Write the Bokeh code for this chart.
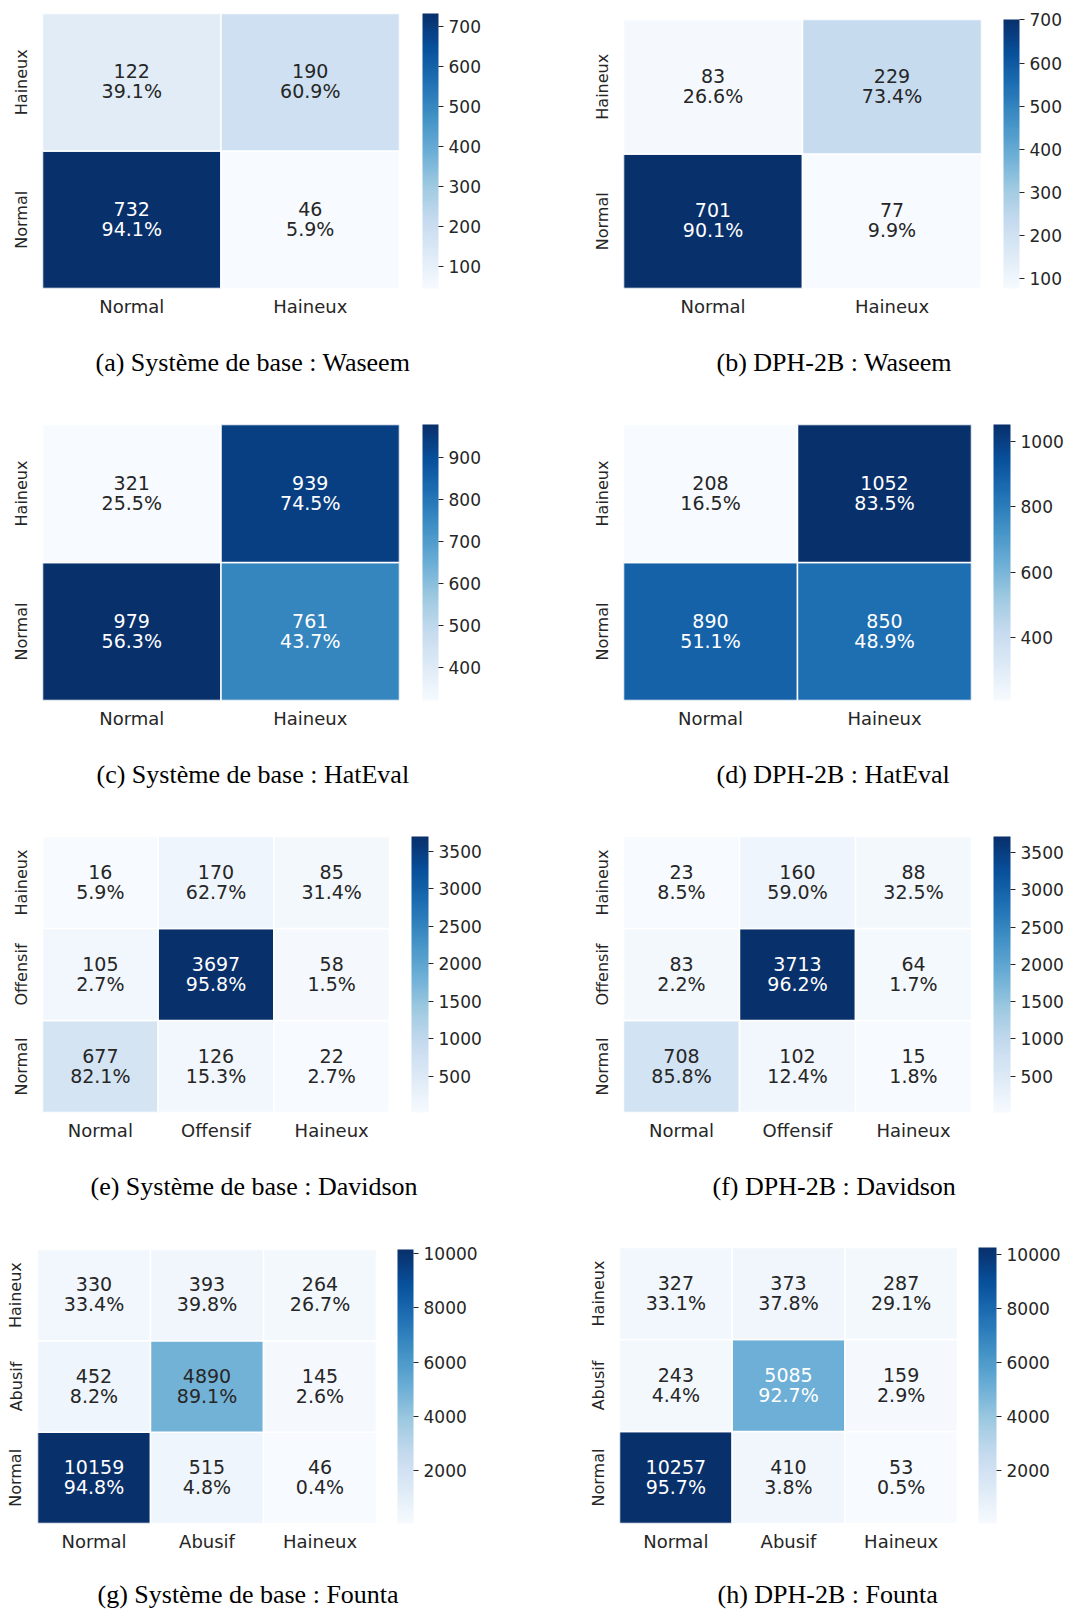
from bokeh.plotting import figure
from bokeh.models import (LinearColorMapper, ColorBar, FixedTicker, Title,
                          ColumnDataSource, FactorRange)
from bokeh.layouts import row, column
from bokeh.palettes import Blues9, interp_palette
from bokeh.core.properties import value, field
from bokeh.embed import file_html
from bokeh.resources import INLINE

# ---------------- data (rows = true class, listed from bottom row to top row) ----------------
labels_waseem = ["Normal", "Haineux"]
labels_hateval = ["Normal", "Haineux"]
labels_davidson = ["Normal", "Offensif", "Haineux"]
labels_founta = ["Normal", "Abusif", "Haineux"]

base_waseem_counts = [[732, 46], [122, 190]]
base_waseem_pct = [[94.1, 5.9], [39.1, 60.9]]
dph_waseem_counts = [[701, 77], [83, 229]]
dph_waseem_pct = [[90.1, 9.9], [26.6, 73.4]]

base_hateval_counts = [[979, 761], [321, 939]]
base_hateval_pct = [[56.3, 43.7], [25.5, 74.5]]
dph_hateval_counts = [[890, 850], [208, 1052]]
dph_hateval_pct = [[51.1, 48.9], [16.5, 83.5]]

base_davidson_counts = [[677, 126, 22], [105, 3697, 58], [16, 170, 85]]
base_davidson_pct = [[82.1, 15.3, 2.7], [2.7, 95.8, 1.5], [5.9, 62.7, 31.4]]
dph_davidson_counts = [[708, 102, 15], [83, 3713, 64], [23, 160, 88]]
dph_davidson_pct = [[85.8, 12.4, 1.8], [2.2, 96.2, 1.7], [8.5, 59.0, 32.5]]

base_founta_counts = [[10159, 515, 46], [452, 4890, 145], [330, 393, 264]]
base_founta_pct = [[94.8, 4.8, 0.4], [8.2, 89.1, 2.6], [33.4, 39.8, 26.7]]
dph_founta_counts = [[10257, 410, 53], [243, 5085, 159], [327, 373, 287]]
dph_founta_pct = [[95.7, 3.8, 0.5], [4.4, 92.7, 2.9], [33.1, 37.8, 29.1]]

ticks_waseem = [100, 200, 300, 400, 500, 600, 700]
ticks_base_hateval = [400, 500, 600, 700, 800, 900]
ticks_dph_hateval = [400, 600, 800, 1000]
ticks_davidson = [500, 1000, 1500, 2000, 2500, 3000, 3500]
ticks_founta = [2000, 4000, 6000, 8000, 10000]

captions = [
    "(a) Système de base : Waseem",
    "(b) DPH-2B : Waseem",
    "(c) Système de base : HatEval",
    "(d) DPH-2B : HatEval",
    "(e) Système de base : Davidson",
    "(f) DPH-2B : Davidson",
    "(g) Système de base : Founta",
    "(h) DPH-2B : Founta",
]

BLUES = interp_palette(list(reversed(Blues9)), 256)
DARK = "#262626"
SANS = "DejaVu Sans"
SERIF = "Liberation Serif"


def panel(labels, counts, pct, ticks, caption, geom, cap_spacer=None):
    left, top, fw, fh, total_w, total_h, cb_gap, cb_w, cap_off, cap_stand = geom
    flat = [c for r in counts for c in r]
    lo, hi = min(flat), max(flat)
    xs, ys, vs, t1, t2, tc = [], [], [], [], [], []
    for i, rlab in enumerate(labels):
        for j, clab in enumerate(labels):
            c = counts[i][j]
            xs.append(clab)
            ys.append(rlab)
            vs.append(c)
            t1.append(str(c))
            t2.append(f"{pct[i][j]:.1f}%")
            tc.append("white" if (c - lo) / (hi - lo) > 0.485 else DARK)
    src = ColumnDataSource(dict(x=xs, y=ys, v=vs, t1=t1, t2=t2, tc=tc))
    mapper = LinearColorMapper(palette=BLUES, low=lo, high=hi)

    p = figure(x_range=FactorRange(*labels), y_range=FactorRange(*labels),
               frame_width=fw, frame_height=fh,
               min_border_left=left, min_border_top=top,
               min_border_right=total_w - left - fw,
               min_border_bottom=total_h - top - fh,
               output_backend="svg", toolbar_location=None,
               outline_line_color=None, background_fill_color="white",
               border_fill_color="white", frame_align=False)
    p.rect(x="x", y="y", width=1, height=1, source=src,
           fill_color={"field": "v", "transform": mapper},
           line_color="white", line_width=1.5)
    common = dict(source=src, text_align="center", text_baseline="middle",
                  text_font=value(SANS), text_font_size="19px",
                  text_color=field("tc"))
    p.text(x="x", y="y", text="t1", y_offset=-11, **common)
    p.text(x="x", y="y", text="t2", y_offset=9, **common)

    p.grid.visible = False
    for ax in (p.xaxis[0], p.yaxis[0]):
        ax.axis_line_color = None
        ax.major_tick_line_color = None
        ax.minor_tick_line_color = None
        ax.major_tick_out = 0
        ax.major_tick_in = 0
        ax.minor_tick_out = 0
        ax.major_label_text_font = SANS
        ax.major_label_text_color = DARK
    p.xaxis.major_label_text_font_size = "18px"
    p.yaxis.major_label_text_font_size = "16px"
    p.xaxis.major_label_standoff = 7
    p.yaxis.major_label_standoff = 12
    p.yaxis.major_label_orientation = "parallel"

    # empty spacer between heatmap and colour bar
    spacer = Title(text=" ", text_font_size="1px", standoff=cb_gap - 3)
    p.add_layout(spacer, "right")

    cb = ColorBar(color_mapper=mapper, ticker=FixedTicker(ticks=ticks),
                  width=cb_w, padding=0, margin=0,
                  major_tick_in=0, major_tick_out=5,
                  major_tick_line_color=DARK,
                  major_label_text_font=SANS,
                  major_label_text_font_size="17px",
                  major_label_text_color=DARK, label_standoff=5,
                  bar_line_color=None, border_line_color=None,
                  background_fill_color=None)
    p.add_layout(cb, "right")

    if cap_spacer is not None:
        # invisible spacer pushing the caption further down
        p.add_layout(Title(text=" ", text_font_size="1px", standoff=cap_spacer), "below")
    t = Title(text=caption, align="left", offset=cap_off, vertical_align="top",
              text_font=SERIF, text_font_size="26px",
              text_font_style="normal", text_color="black", standoff=cap_stand)
    p.add_layout(t, "below")
    return p


L, R = 545, 540
H1, H2, H3, H4 = 419, 411, 411, 368
pa = panel(labels_waseem, base_waseem_counts, base_waseem_pct, ticks_waseem, captions[0],
           (42, 13, 357, 275, L, H1, 23, 16, 53, 57))
pb = panel(labels_waseem, dph_waseem_counts, dph_waseem_pct, ticks_waseem, captions[1],
           (78, 19, 358, 269, R, H1, 22, 16, 93, 57))
pc = panel(labels_hateval, base_hateval_counts, base_hateval_pct, ticks_base_hateval, captions[2],
           (42, 5, 357, 276, L, H2, 23, 16, 54, 57))
pd = panel(labels_hateval, dph_hateval_counts, dph_hateval_pct, ticks_dph_hateval, captions[3],
           (78, 5, 348, 276, R, H2, 22, 17, 93, 57))
pe = panel(labels_davidson, base_davidson_counts, base_davidson_pct, ticks_davidson, captions[4],
           (42, 6, 347, 276, L, H3, 22, 17, 48, 57))
pf = panel(labels_davidson, dph_davidson_counts, dph_davidson_pct, ticks_davidson, captions[5],
           (78, 6, 348, 276, R, H3, 22, 17, 89, 57))
pg = panel(labels_founta, base_founta_counts, base_founta_pct, ticks_founta, captions[6],
           (37, 8, 339, 274, L, H4, 21, 16, 60, -12), cap_spacer=28)
ph = panel(labels_founta, dph_founta_counts, dph_founta_pct, ticks_founta, captions[7],
           (74, 6, 338, 276, R, H4, 21, 18, 98, -12), cap_spacer=28)

layout = column(row(pa, pb), row(pc, pd), row(pe, pf), row(pg, ph))
open("out.html", "w").write(file_html(layout, INLINE))
